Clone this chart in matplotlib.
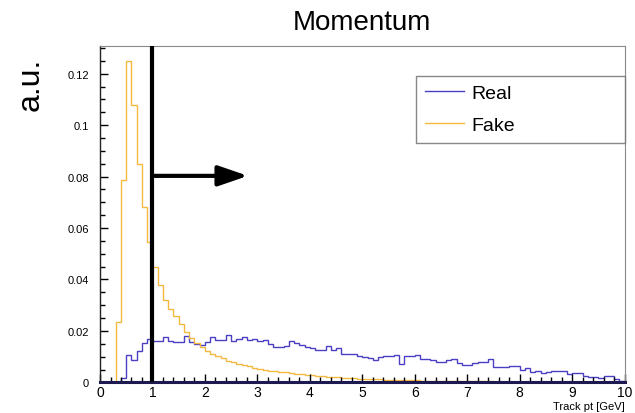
import numpy as np
import matplotlib
matplotlib.use("Agg")
import matplotlib.pyplot as plt
from matplotlib.ticker import MultipleLocator

plt.rcParams['font.family'] = ['Liberation Sans', 'DejaVu Sans']

# Normalised track pt distributions, 100 bins of 0.1 GeV from 0 to 10 GeV
bin_edges = np.linspace(0.0, 10.0, 101)

real = [
    0.0, 0.0, 0.0, 0.0, 0.0017, 0.0108, 0.0086, 0.0122, 0.0152, 0.0167,
    0.0162, 0.0162, 0.0176, 0.0162, 0.0156, 0.0156, 0.0180, 0.0158, 0.0150, 0.0146,
    0.0158, 0.0178, 0.0164, 0.0166, 0.0183, 0.0162, 0.0170, 0.0176, 0.0166, 0.0168,
    0.0162, 0.0166, 0.0148, 0.0137, 0.0138, 0.0142, 0.0160, 0.0152, 0.0145, 0.0138,
    0.0134, 0.0127, 0.0124, 0.0143, 0.0124, 0.0132, 0.0112, 0.0110, 0.0109, 0.0104,
    0.0100, 0.0096, 0.0086, 0.0098, 0.0103, 0.0104, 0.0105, 0.0070, 0.0101, 0.0104,
    0.0106, 0.0092, 0.0091, 0.0088, 0.0081, 0.0080, 0.0086, 0.0090, 0.0076, 0.0066,
    0.0067, 0.0074, 0.0078, 0.0080, 0.0091, 0.0058, 0.0058, 0.0058, 0.0062, 0.0062,
    0.0050, 0.0055, 0.0042, 0.0045, 0.0036, 0.0040, 0.0044, 0.0044, 0.0043, 0.0032,
    0.0036, 0.0036, 0.0024, 0.0022, 0.0019, 0.0018, 0.0024, 0.0024, 0.0015, 0.0006,
]

fake = [
    0.0, 0.0, 0.0, 0.0236, 0.0786, 0.1250, 0.1078, 0.0850, 0.0680, 0.0545,
    0.0448, 0.0377, 0.0320, 0.0287, 0.0260, 0.0228, 0.0197, 0.0172, 0.0153, 0.0136,
    0.0122, 0.0111, 0.0102, 0.0093, 0.0085, 0.0078, 0.0072, 0.0066, 0.0062, 0.0057,
    0.0053, 0.0049, 0.0046, 0.0043, 0.0041, 0.0039, 0.0036, 0.0034, 0.0032, 0.0030,
    0.0028, 0.0026, 0.0024, 0.0022, 0.0021, 0.0019, 0.0018, 0.0017, 0.0016, 0.0015,
    0.0014, 0.0013, 0.0012, 0.0012, 0.0011, 0.0010, 0.0010, 0.0009, 0.0009, 0.0008,
    0.0008, 0.0007, 0.0007, 0.0006, 0.0006, 0.0006, 0.0005, 0.0005, 0.0005, 0.0004,
    0.0004, 0.0004, 0.0004, 0.0004, 0.0004, 0.0003, 0.0003, 0.0003, 0.0003, 0.0003,
    0.0003, 0.0003, 0.0003, 0.0003, 0.0003, 0.0002, 0.0002, 0.0002, 0.0002, 0.0002,
    0.0002, 0.0002, 0.0002, 0.0002, 0.0002, 0.0001, 0.0001, 0.0001, 0.0001, 0.0001,
]

y_ticks = [0.0, 0.02, 0.04, 0.06, 0.08, 0.10, 0.12]
y_tick_labels = ['0', '0.02', '0.04', '0.06', '0.08', '0.1', '0.12']
pt_cut = 1.0

real_color = '#4a3ec2'
fake_color = '#f4b941'

fig = plt.figure(figsize=(6.35, 4.14), dpi=100)
ax = fig.add_axes([0.1575, 0.074, 0.826, 0.8125])

ax.stairs(real, bin_edges, color=real_color, linewidth=1.0, label='Real')
ax.stairs(fake, bin_edges, color=fake_color, linewidth=1.0, label='Fake')

ax.set_xlim(0, 10)
ax.set_ylim(0, 0.1308)

# ROOT-style inward ticks
ax.set_yticks(y_ticks)
ax.set_yticklabels(y_tick_labels)
ax.yaxis.set_minor_locator(MultipleLocator(0.005))
ax.xaxis.set_major_locator(MultipleLocator(1))
ax.xaxis.set_minor_locator(MultipleLocator(0.2))
ax.tick_params(axis='both', which='both', direction='in', top=False, right=False)
ax.tick_params(axis='y', which='major', length=6, width=1, labelsize=8, pad=8)
ax.tick_params(axis='y', which='minor', length=3.5, width=1)
ax.tick_params(axis='x', which='major', length=6, width=1, labelsize=10, pad=2)
ax.tick_params(axis='x', which='minor', length=3.5, width=1)

ax.spines['bottom'].set_color('#1c1a50')
ax.spines['bottom'].set_linewidth(2.2)
ax.spines['left'].set_color('#222222')
ax.spines['left'].set_linewidth(1.0)
ax.spines['top'].set_color('#8a8a8a')
ax.spines['right'].set_color('#8a8a8a')

# pt cut with arrow pointing to the kept region
ax.axvline(pt_cut, color='black', linewidth=3.0, zorder=5)
ax.annotate('', xy=(2.82, 0.0803), xytext=(pt_cut, 0.0803),
            arrowprops=dict(arrowstyle='-|>,head_length=0.9,head_width=0.31',
                            mutation_scale=20, lw=3.0, color='black',
                            shrinkA=0, shrinkB=0))

leg = ax.legend(loc='upper left', bbox_to_anchor=(0.603, 0.912, 0.397, 0.0),
                mode='expand', fontsize=14, frameon=True, fancybox=False,
                handlelength=2.0, handletextpad=0.4, borderpad=0.45,
                labelspacing=0.75, borderaxespad=0.0)
leg.get_frame().set_edgecolor('#6a6a6a')
leg.get_frame().set_linewidth(1.0)
for line in leg.get_lines():
    line.set_linewidth(1.0)

fig.text(0.570, 0.945, 'Momentum', ha='center', va='center', fontsize=20)
fig.text(0.048, 0.795, 'a.u.', ha='center', va='center', rotation=90, fontsize=23)
ax.text(1.0, -0.055, 'Track pt [GeV]', transform=ax.transAxes,
        ha='right', va='top', fontsize=8)

fig.savefig('out.png', dpi=100)
